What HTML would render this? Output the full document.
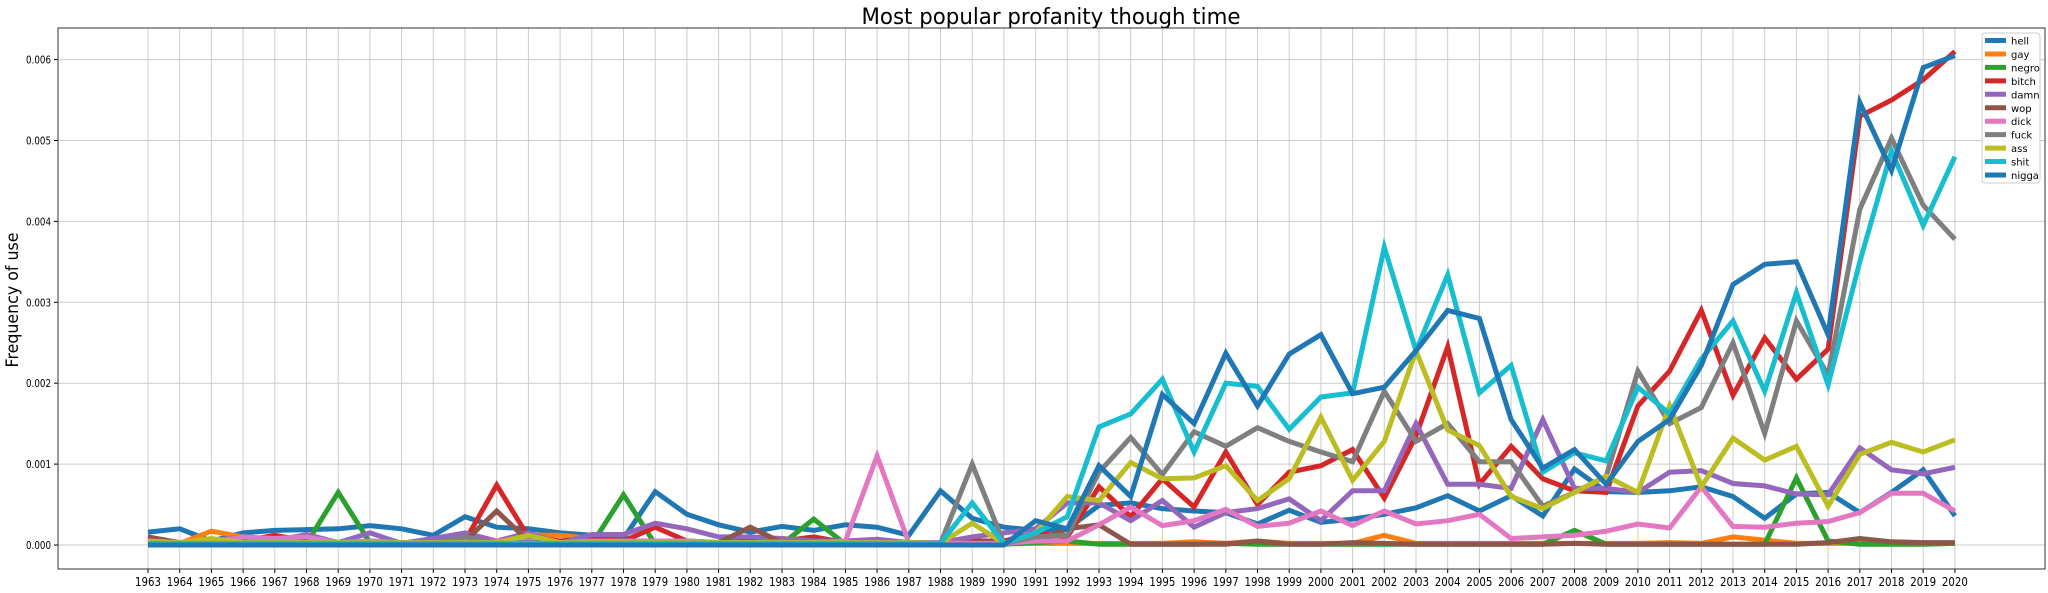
<!DOCTYPE html>
<html><head><meta charset="utf-8"><style>
html,body{margin:0;padding:0;background:#fff;}
svg{display:block;font-family:"DejaVu Sans","Liberation Sans",sans-serif;}
</style></head><body>
<svg id="chart" width="2048" height="593" viewBox="0 0 2048 593" xmlns="http://www.w3.org/2000/svg">
<rect x="0" y="0" width="2048" height="593" fill="#fff"/>
<text x="1051" y="24" font-size="22" text-anchor="middle" textLength="379" lengthAdjust="spacingAndGlyphs" fill="#000">Most popular profanity though time</text>
<text transform="translate(18,300) rotate(-90)" font-size="17" text-anchor="middle" textLength="135" lengthAdjust="spacingAndGlyphs" fill="#000">Frequency of use</text>
<g id="grid"></g>
<g id="series"></g>
<g id="axes"></g>
<g id="legend"></g>
</svg>
<script>
const years = [];
for (let y = 1963; y <= 2020; y++) years.push(y);
const yTicks = [0, 0.001, 0.002, 0.003, 0.004, 0.005, 0.006];
const yTickLabels = ["0.000","0.001","0.002","0.003","0.004","0.005","0.006"];
const seriesNames = ["hell","gay","negro","bitch","damn","wop","dick","fuck","ass","shit","nigga"];
const seriesColors = ["#1f77b4","#ff7f0e","#2ca02c","#d62728","#9467bd","#8c564b","#e377c2","#7f7f7f","#bcbd22","#17becf","#1f77b4"];
// values in units of 1e-3
const hell = [0.16,0.2,0.05,0.15,0.18,0.19,0.2,0.24,0.2,0.12,0.35,0.22,0.2,0.15,0.12,0.08,0.66,0.38,0.25,0.16,0.23,0.18,0.25,0.22,0.12,0.67,0.33,0.22,0.18,0.2,0.49,0.52,0.45,0.42,0.4,0.26,0.43,0.28,0.32,0.38,0.46,0.61,0.42,0.61,0.36,0.94,0.66,0.65,0.67,0.72,0.6,0.33,0.63,0.65,0.4,0.65,0.93,0.36];
const gay = [0.02,0.02,0.17,0.1,0.03,0.03,0.02,0.02,0.02,0.03,0.03,0.02,0.12,0.12,0.08,0.02,0.02,0.02,0.02,0.02,0.02,0.02,0.02,0.02,0.02,0.02,0.02,0.02,0.02,0.02,0.02,0.02,0.02,0.04,0.02,0.05,0.02,0.02,0.02,0.12,0.02,0.02,0.02,0.02,0.02,0.02,0.02,0.02,0.03,0.02,0.1,0.06,0.02,0.02,0.02,0.02,0.03,0.02];
const negro = [0.01,0.01,0.02,0.02,0.1,0.02,0.65,0.03,0.01,0.01,0.01,0.01,0.01,0.01,0.01,0.62,0.01,0.01,0.01,0.01,0.01,0.32,0.01,0.01,0.01,0.01,0.01,0.01,0.03,0.05,0.01,0.01,0.01,0.01,0.02,0.01,0.01,0.01,0.01,0.01,0.01,0.01,0.01,0.01,0.01,0.18,0.01,0.01,0.01,0.01,0.01,0.01,0.83,0.05,0.01,0.01,0.01,0.02];
const bitch = [0.03,0.03,0.03,0.05,0.12,0.05,0.03,0.05,0.03,0.03,0.05,0.74,0.1,0.05,0.08,0.05,0.22,0.05,0.03,0.05,0.05,0.1,0.03,0.03,0.03,0.03,0.05,0.05,0.15,0.1,0.72,0.35,0.82,0.47,1.15,0.5,0.9,0.98,1.18,0.58,1.35,2.45,0.75,1.22,0.82,0.67,0.65,1.72,2.15,2.9,1.85,2.56,2.05,2.42,5.3,5.5,5.75,6.1];
const damn = [0.1,0.02,0.05,0.1,0.05,0.13,0.03,0.15,0.02,0.08,0.15,0.05,0.15,0.02,0.13,0.13,0.27,0.2,0.1,0.1,0.08,0.05,0.05,0.07,0.03,0.03,0.1,0.15,0.2,0.52,0.52,0.3,0.55,0.22,0.4,0.45,0.57,0.3,0.67,0.67,1.5,0.75,0.75,0.7,1.55,0.7,0.7,0.65,0.9,0.92,0.76,0.73,0.63,0.62,1.2,0.93,0.88,0.96];
const wop = [0.1,0.03,0.03,0.03,0.03,0.03,0.03,0.03,0.03,0.03,0.05,0.42,0.05,0.03,0.03,0.03,0.03,0.05,0.03,0.22,0.03,0.03,0.03,0.03,0.03,0.03,0.03,0.03,0.05,0.2,0.25,0.01,0.01,0.01,0.01,0.05,0.01,0.01,0.03,0.02,0.01,0.01,0.01,0.01,0.01,0.02,0.01,0.01,0.01,0.01,0.01,0.01,0.01,0.03,0.08,0.04,0.03,0.03];
const dick = [0.05,0.03,0.03,0.1,0.08,0.1,0.03,0.05,0.03,0.03,0.05,0.05,0.05,0.03,0.05,0.05,0.05,0.05,0.03,0.03,0.03,0.03,0.05,1.1,0.03,0.03,0.02,0.02,0.05,0.05,0.25,0.47,0.24,0.3,0.44,0.23,0.27,0.42,0.24,0.42,0.26,0.3,0.38,0.08,0.1,0.12,0.17,0.26,0.21,0.72,0.23,0.22,0.27,0.29,0.4,0.64,0.64,0.42];
const fuck = [0.03,0.03,0.03,0.03,0.03,0.03,0.03,0.03,0.03,0.03,0.1,0.03,0.03,0.03,0.03,0.03,0.03,0.03,0.03,0.03,0.05,0.03,0.03,0.03,0.03,0.02,1.0,0.02,0.1,0.12,0.9,1.33,0.87,1.4,1.22,1.45,1.28,1.15,1.03,1.9,1.28,1.5,1.03,1.03,0.48,0.65,0.85,2.15,1.5,1.7,2.5,1.38,2.77,2.1,4.15,5.03,4.2,3.78];
const ass = [0.05,0.03,0.08,0.03,0.03,0.03,0.03,0.03,0.03,0.03,0.03,0.03,0.12,0.03,0.03,0.03,0.03,0.03,0.03,0.03,0.03,0.03,0.03,0.03,0.03,0.02,0.27,0.02,0.15,0.6,0.55,1.02,0.82,0.83,0.98,0.55,0.82,1.58,0.8,1.28,2.4,1.42,1.23,0.6,0.45,0.65,0.85,0.65,1.72,0.72,1.32,1.05,1.22,0.48,1.12,1.27,1.15,1.3];
const shit = [0.02,0.02,0.02,0.02,0.02,0.02,0.02,0.02,0.02,0.02,0.02,0.02,0.02,0.02,0.02,0.02,0.02,0.02,0.02,0.02,0.02,0.02,0.02,0.02,0.02,0.02,0.52,0.02,0.15,0.35,1.46,1.62,2.05,1.15,2.0,1.96,1.43,1.83,1.88,3.68,2.4,3.34,1.88,2.22,0.9,1.14,1.04,1.95,1.62,2.3,2.77,1.9,3.12,1.98,3.5,4.87,3.95,4.8];
const nigga = [0,0,0,0,0,0,0,0,0,0,0,0,0,0,0,0,0,0,0,0,0,0,0,0,0,0,0,0,0.3,0.2,0.98,0.6,1.86,1.5,2.37,1.72,2.36,2.6,1.87,1.95,2.4,2.9,2.8,1.55,0.95,1.18,0.75,1.28,1.55,2.22,3.22,3.47,3.5,2.6,5.47,4.63,5.9,6.05];
const seriesValues = [hell,gay,negro,bitch,damn,wop,dick,fuck,ass,shit,nigga];

const NS = "http://www.w3.org/2000/svg";
const L = 58, R = 2045, T = 28, B = 569;
const x0 = 148, xStep = 31.7;
function xScale(year){ return x0 + (year - years[0]) * xStep; }
function yScale(v){ return 545 - v * 80900; }
function mk(tag, attrs, parent){ const e = document.createElementNS(NS, tag); for (const k in attrs) e.setAttribute(k, attrs[k]); parent.appendChild(e); return e; }

const grid = document.getElementById('grid');
const axes = document.getElementById('axes');
years.forEach(y => {
  const gx = xScale(y);
  const gl = mk('line', {x1:gx, x2:gx, y1:T, y2:B, stroke:'#cccccc', 'stroke-width':1}, grid);
  
  
  const tk = mk('line', {x1:gx, x2:gx, y1:B, y2:B+4, stroke:'#000', 'stroke-width':1}, axes);
  
  
  const t = mk('text', {x:gx, y:586, 'font-size':12, 'text-anchor':'middle', textLength:26, lengthAdjust:'spacingAndGlyphs', fill:'#000'}, axes);
  t.textContent = y;
  
  
});
yTicks.forEach((v,i) => {
  const gy = yScale(v);
  const gl = mk('line', {x1:L, x2:R, y1:gy, y2:gy, stroke:'#cccccc', 'stroke-width':1}, grid);
  
  
  const tk = mk('line', {x1:L-4, x2:L, y1:gy, y2:gy, stroke:'#000', 'stroke-width':1}, axes);
  
  
  const t = mk('text', {x:L-7, y:gy+4, 'font-size':10.5, 'text-anchor':'end', textLength:25, lengthAdjust:'spacingAndGlyphs', fill:'#000'}, axes);
  t.textContent = yTickLabels[i];
  
  
});
const frame = mk('rect', {x:L, y:T, width:R-L, height:B-T, fill:'none', stroke:'#333', 'stroke-width':1}, axes);



const sg = document.getElementById('series');
seriesValues.forEach((vals, si) => {
  const pts = vals.map((v,i) => xScale(years[i]).toFixed(1) + ',' + yScale(v/1000).toFixed(1)).join(' ');
  const pl = mk('polyline', {points:pts, fill:'none', stroke:seriesColors[si], 'stroke-width':5, 'stroke-linejoin':'miter', 'stroke-miterlimit':4}, sg);
  
  
});

const lg = document.getElementById('legend');
const box = mk('rect', {x:1982, y:33, width:58, height:150, rx:3, fill:'#fff', 'fill-opacity':0.85, stroke:'#ccc', 'stroke-width':1}, lg);


seriesNames.forEach((n, i) => {
  const ly = 40.5 + i * 13.45;
  const ln = mk('line', {x1:1985, x2:2006, y1:ly, y2:ly, stroke:seriesColors[i], 'stroke-width':5}, lg);
  
  
  const t = mk('text', {x:2011, y:ly+4, 'font-size':10, fill:'#000'}, lg);
  t.textContent = n;
  
  
});
</script>
</body></html>
